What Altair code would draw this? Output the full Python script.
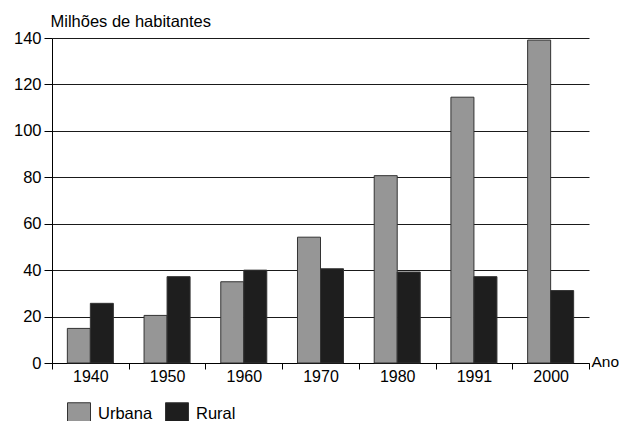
import altair as alt
import pandas as pd

anos = ["1940", "1950", "1960", "1970", "1980", "1991", "2000"]
urbana = [14.9, 20.5, 35.0, 54.2, 80.7, 114.5, 139.1]
rural = [25.7, 37.2, 40.0, 40.6, 39.2, 37.2, 31.2]
series = ["Urbana", "Rural"]
colors = ["#969696", "#1e1e1e"]
y_ticks = [0, 20, 40, 60, 80, 100, 120, 140]

rows = []
for a, u, r in zip(anos, urbana, rural):
    rows.append({"ano": a, "serie": "Urbana", "valor": u})
    rows.append({"ano": a, "serie": "Rural", "valor": r})
df = pd.DataFrame(rows)

FONT = "Liberation Sans"

chart = alt.Chart(df).mark_bar(stroke="#333333", strokeWidth=1).encode(
    x=alt.X("ano:N", sort=anos,
            scale=alt.Scale(paddingInner=0, paddingOuter=0),
            axis=alt.Axis(title="Ano", labelAngle=0, tickBand="extent",
                          tickSize=6, tickColor="#000", domainColor="#000",
                          labelBaseline="alphabetic", labelPadding=12,
                          labelFontSize=16, labelColor="#000",
                          labelFont=FONT, titleFont=FONT, titleFontSize=15.5,
                          titleFontWeight="normal", titleColor="#000",
                          titleX=539, titleY=-2, titleAlign="left",
                          titleBaseline="middle", titleAnchor="start", grid=False)),
    xOffset=alt.XOffset("serie:N", sort=series,
                        scale=alt.Scale(paddingInner=0, paddingOuter=0.667)),
    y=alt.Y("valor:Q",
            scale=alt.Scale(domain=[0, 140], nice=False),
            axis=alt.Axis(title="Milhões de habitantes", values=y_ticks,
                          titleAngle=0, titleAlign="left", titleX=-2, titleY=-12,
                          titleBaseline="alphabetic", titleFont=FONT,
                          titleFontSize=16.5, titleFontWeight="normal",
                          titleColor="#000", labelFont=FONT, labelFontSize=16.5,
                          labelColor="#000", tickSize=8, tickColor="#000",
                          domainColor="#000", labelPadding=3,
                          grid=True, gridColor="#1a1a1a", gridOpacity=1)),
    fill=alt.Fill("serie:N", sort=series,
                  scale=alt.Scale(domain=series, range=colors),
                  legend=alt.Legend(title=None, orient="none", direction="horizontal",
                                    legendX=15, legendY=364, padding=0,
                                    symbolType="square", symbolSize=529,
                                    symbolStrokeColor="#333333", symbolStrokeWidth=1,
                                    symbolOpacity=1,
                                    labelFont=FONT, labelFontSize=16.5, labelColor="#000",
                                    labelOffset=7, columnPadding=10)),
).properties(
    width=537, height=325,
    autosize=alt.AutoSizeParams(type="none"),
    padding={"left": 44, "top": 30, "right": 30, "bottom": 58},
).configure_view(stroke=None)

chart.save("out.html", embed_options={"renderer": "svg", "actions": False})
